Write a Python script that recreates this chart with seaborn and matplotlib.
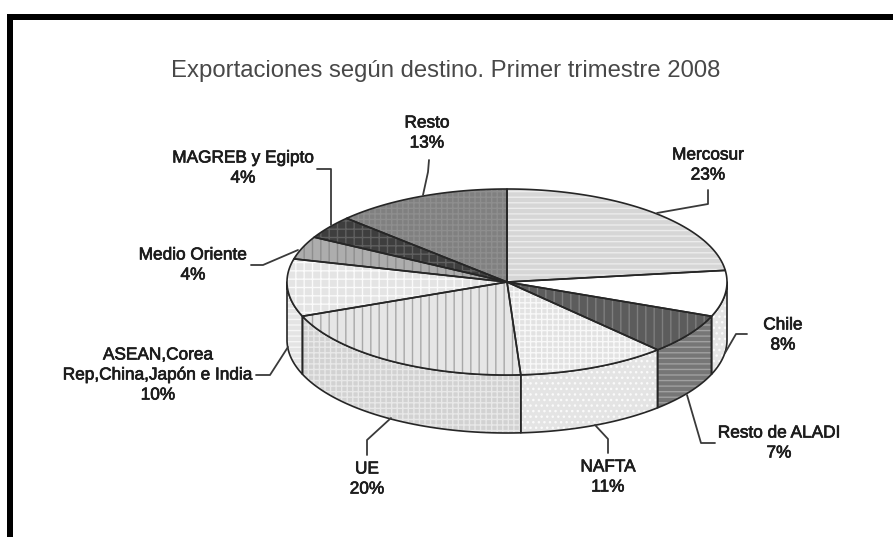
import numpy as np
import matplotlib
matplotlib.use("Agg")
import matplotlib.pyplot as plt
import matplotlib.patheffects as pe
from matplotlib.patches import Polygon, Rectangle
import seaborn as sns

title = "Exportaciones según destino. Primer trimestre 2008"
regions = ["Mercosur", "Chile", "Resto de ALADI", "NAFTA", "UE",
           "ASEAN,Corea\nRep,China,Japón e India", "Medio Oriente",
           "MAGREB y Egipto", "Resto"]
shares = [23, 8, 7, 11, 20, 10, 4, 4, 13]

# top-face styles: fill, hatch, hatch colour
top_fill = ["#d6d6d6", "#ffffff", "#5c5c5c", "#e2e2e2", "#e6e6e6", "#e4e4e4", "#adadad", "#3e3e3e", "#808080"]
top_hatch = ["---", "", "||", "+++", "||", "++", "||", "++", "+++"]
top_hcol = ["#ececec", "#ffffff", "#7e7e7e", "#f8f8f8", "#a8a8a8", "#fafafa", "#8e8e8e", "#606060", "#8e8e8e"]
# wall styles
wall_fill = ["#d6d6d6", "#e4e4e4", "#767676", "#e4e4e4", "#d2d2d2", "#e4e4e4", "#adadad", "#3e3e3e", "#808080"]
wall_hatch = ["---", "...", "---", "...", "+++", "---", "", "", ""]
wall_hcol = ["#ececec", "#fafafa", "#a0a0a0", "#fafafa", "#e8e8e8", "#f6f6f6", "#8e8e8e", "#606060", "#969696"]

# label anchors and leader lines, in picture pixels
label_xy = [(708, 165), (783, 335), (779, 443), (608, 477), (367, 479),
            (158, 375), (193, 265), (243, 168), (427, 133)]
leaders = [[(708, 190), (708, 204), (657, 213)],
           [(747, 334), (736, 334), (725, 353)],
           [(715, 443), (701, 443), (687, 395)],
           [(608, 453), (608, 439), (595, 425)],
           [(367, 455), (367, 440), (391, 418)],
           [(256, 375), (270, 375), (288, 347)],
           [(251, 265), (263, 265), (298, 250)],
           [(317, 169), (331, 169), (331, 225)],
           [(429, 160), (428, 172), (423, 195)]]

CX, CY, RX, RY, DEPTH = 507, 282, 220, 93, 58

sns.set_theme(style="white")
plt.rcParams["font.family"] = ["Liberation Sans", "DejaVu Sans"]
plt.rcParams["hatch.linewidth"] = 1.0

fig = plt.figure(figsize=(8.93, 5.37), dpi=100)
ax = fig.add_axes([0, 0, 1, 1])
ax.set_xlim(0, 893)
ax.set_ylim(537, 0)
ax.axis("off")


def arc(a0, a1, dy=0.0):
    t = np.radians(np.linspace(a0, a1, max(int(abs(a1 - a0) * 2), 2)))
    return np.column_stack([CX + RX * np.sin(t), CY - RY * np.cos(t) + dy])


def face(pts, fill, hatch, hcol, z):
    ax.add_patch(Polygon(pts, closed=True, facecolor=fill, edgecolor=hcol if hatch else fill,
                         hatch=hatch or None, lw=0, zorder=z))
    ax.add_patch(Polygon(pts, closed=True, fill=False, edgecolor="#262626", lw=1.2,
                         joinstyle="round", zorder=z + 0.5))


edges = np.concatenate([[0], np.cumsum(shares)]) / np.sum(shares) * 360
for i in range(len(shares)):
    a0, a1 = max(edges[i], 90), min(edges[i + 1], 270)
    if a1 > a0:
        pts = np.vstack([arc(a0, a1), arc(a0, a1, DEPTH)[::-1]])
        face(pts, wall_fill[i], wall_hatch[i], wall_hcol[i], 2)
for i in range(len(shares)):
    pts = np.vstack([[[CX, CY]], arc(edges[i], edges[i + 1])])
    face(pts, top_fill[i], top_hatch[i], top_hcol[i], 3)

for name, v, (x, y), line in zip(regions, shares, label_xy, leaders):
    ax.text(x, y, f"{name}\n{v}%", ha="center", va="center", fontsize=12.4,
            color="#1c1c1c", linespacing=1.42, zorder=6,
            path_effects=[pe.withStroke(linewidth=0.5, foreground="#1c1c1c")])
    xs, ys = zip(*line)
    ax.plot(xs, ys, color="#3a3a3a", lw=1.3, zorder=5)

ax.text(446, 71, title, ha="center", va="center", fontsize=17.2, color="#484848")

ax.add_patch(Rectangle((7, 14), 886, 6, color="black", lw=0, zorder=7))
ax.add_patch(Rectangle((7, 14), 6, 523, color="black", lw=0, zorder=7))

fig.savefig("out.png", dpi=100, facecolor="white")
